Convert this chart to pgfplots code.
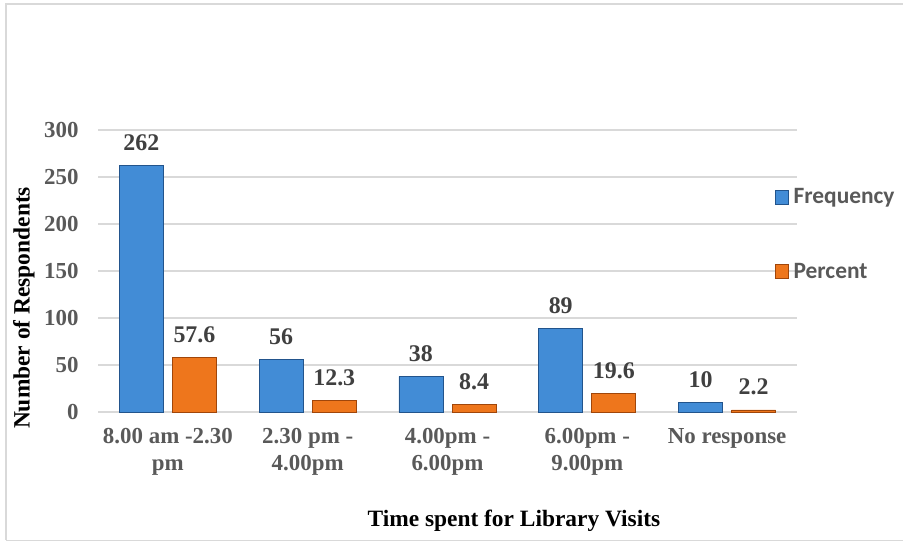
\documentclass[border=0pt]{standalone}
\usepackage{fontspec}
\setmainfont{Liberation Serif}
\newfontfamily\legfont{Carlito}
\usepackage{pgfplots}
\pgfplotsset{compat=1.18}
\definecolor{bluemain}{RGB}{66,140,214}
\definecolor{bluedark}{RGB}{34,84,140}
\definecolor{orangemain}{RGB}{238,118,28}
\definecolor{orangedark}{RGB}{160,70,10}
\definecolor{gridgray}{RGB}{217,217,217}
\definecolor{ticktext}{RGB}{89,89,89}
\definecolor{labeltext}{RGB}{64,64,64}
\begin{document}
\begin{tikzpicture}
\useasboundingbox (0,0) rectangle (903bp,541bp);
\draw[gridgray, line width=2bp] (6bp,1bp) -- (6bp,537bp) -- (910bp,537bp);
\draw[gridgray, line width=1bp] (6bp,1bp) -- (910bp,1bp);
\begin{axis}[
  at={(98bp,129bp)}, anchor=south west,
  scale only axis, width=699bp, height=282bp,
  xmin=-0.5, xmax=4.5, ymin=0, ymax=300,
  ytick={0,50,...,300},
  xtick={0,1,2,3,4},
  xticklabels={{8.00 am -2.30\\pm},{2.30 pm -\\4.00pm},{4.00pm -\\6.00pm},{6.00pm -\\9.00pm},{No response}},
  axis line style={draw=none},
  major tick length=0pt,
  ymajorgrids, grid style={gridgray, line width=2bp},
  /pgf/number format/assume math mode=true,
  ticklabel style={font=\fontsize{23}{27}\selectfont\bfseries, text=ticktext},
  xticklabel style={align=center, yshift=-13bp},
  yticklabel style={xshift=-16bp},
  ybar, bar width=0.315,
  nodes near coords,
  nodes near coords style={font=\fontsize{24}{28}\selectfont\bfseries, text=labeltext, yshift=11bp},
  xlabel={Time spent for Library Visits},
  ylabel={Number of Respondents},
  label style={font=\fontsize{23.5}{28}\selectfont\bfseries},
  xlabel style={at={(axis description cs:0.595,-0.385)}, anchor=center},
  ylabel style={at={(axis description cs:-0.106,0.369)}, anchor=center},
  legend style={draw=none, fill=none, at={(axis description cs:0.968,0.8)}, anchor=north west,
     font=\fontsize{23.5}{27}\selectfont\legfont\bfseries, text=ticktext,
     row sep=54bp, inner sep=0pt, nodes={inner xsep=5bp}},
  legend cell align=left,
  legend image code/.code={\fill[#1] (0bp,-7bp) rectangle (13bp,7bp);},
]
\addplot[bar shift=-0.19, draw=bluedark, line width=0.8bp, fill=bluemain]
 coordinates {(0,262) (1,56) (2,38) (3,89) (4,10)};
\addplot[bar shift=0.19, draw=orangedark, line width=0.8bp, fill=orangemain]
 coordinates {(0,57.6) (1,12.3) (2,8.4) (3,19.6) (4,2.2)};
\legend{Frequency,Percent}
\end{axis}
\end{tikzpicture}
\end{document}
